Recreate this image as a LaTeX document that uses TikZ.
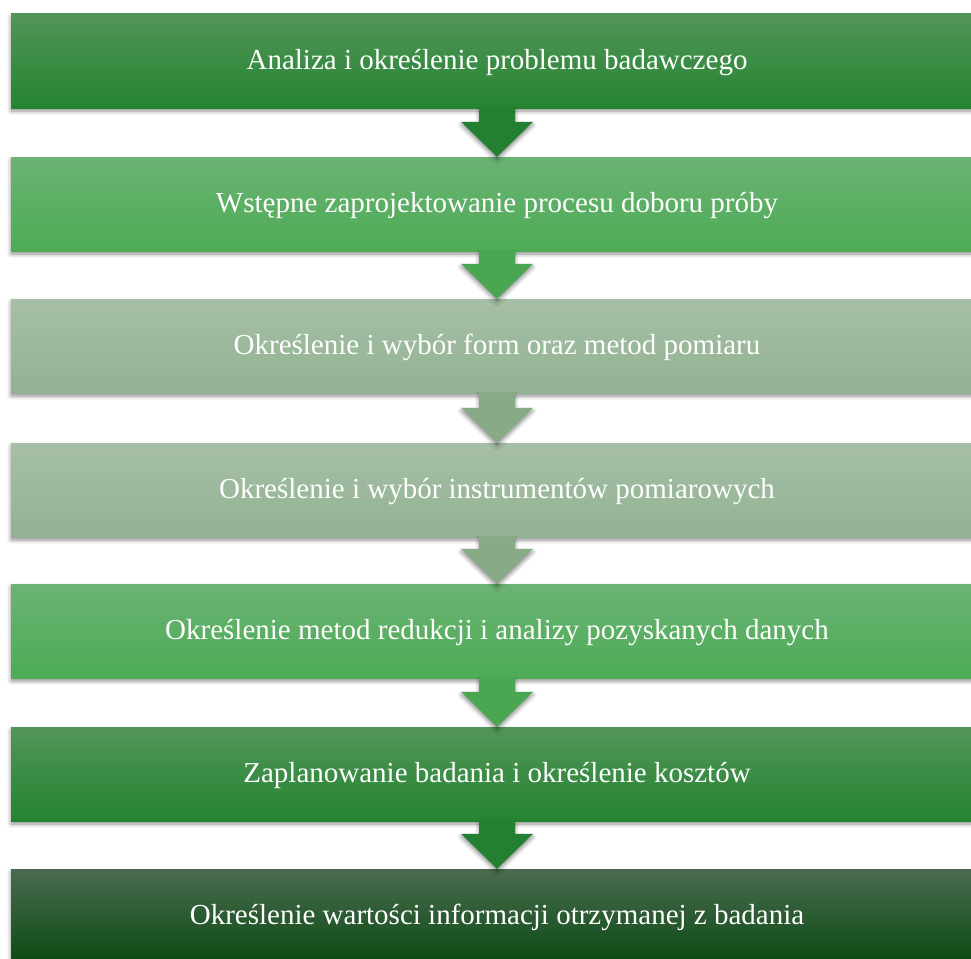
\documentclass[tikz,border=0pt]{standalone}
\usepackage{fontspec}
\setmainfont{Liberation Serif}
\usetikzlibrary{shadows.blur,calc}

% palette of the stage boxes and their arrows
\definecolor{deepTop}{HTML}{529558}
\definecolor{deepMid}{HTML}{2E8A3B}
\definecolor{deepBot}{HTML}{248431}
\definecolor{deepArrow}{HTML}{238030}
\definecolor{midTop}{HTML}{6BB374}
\definecolor{midMid}{HTML}{57AD5F}
\definecolor{midBot}{HTML}{4DAB55}
\definecolor{midArrow}{HTML}{49A651}
\definecolor{paleTop}{HTML}{A6BFA6}
\definecolor{paleMid}{HTML}{9AB79A}
\definecolor{paleBot}{HTML}{92B292}
\definecolor{paleArrow}{HTML}{87AA87}
\definecolor{darkTop}{HTML}{4B6B50}
\definecolor{darkMid}{HTML}{0C4B15}
\definecolor{darkBot}{HTML}{0B4A13}

\begin{document}
\begin{tikzpicture}[x=1pt,y=1pt,
  softshadow/.style={blur shadow={shadow xshift=0pt,shadow yshift=-3pt,
      shadow blur radius=4pt,shadow opacity=45}},
  stage/.style={rectangle,minimum width=972pt,minimum height=94pt,inner sep=0pt,
      text height=17pt,text depth=0pt,
      text=white,font=\fontsize{29}{34}\selectfont,softshadow},
  deepbox/.style={stage,top color=deepTop,middle color=deepMid,bottom color=deepBot},
  midbox/.style={stage,top color=midTop,middle color=midMid,bottom color=midBot},
  palebox/.style={stage,top color=paleTop,middle color=paleMid,bottom color=paleBot},
  darkbox/.style={stage,top color=darkTop,middle color=darkMid,bottom color=darkBot},
  flow/.style={softshadow}]

\useasboundingbox (0,0) rectangle (971,-958);

% stages
\node[deepbox] (s1) at (497,-61)  {Analiza i określenie problemu badawczego};
\node[midbox]  (s2) at (497,-204) {Wstępne zaprojektowanie procesu doboru próby};
\node[palebox] (s3) at (497,-346) {Określenie i wybór form oraz metod pomiaru};
\node[palebox] (s4) at (497,-490) {Określenie i wybór instrumentów pomiarowych};
\node[midbox]  (s5) at (497,-631) {Określenie metod redukcji i analizy pozyskanych danych};
\node[deepbox] (s6) at (497,-774) {Zaplanowanie badania i określenie kosztów};
\node[darkbox] (s7) at (497,-916) {Określenie wartości informacji otrzymanej z badania};

% block arrows between consecutive stages
\foreach \a/\b/\c in {s1/s2/deepArrow,s2/s3/midArrow,s3/s4/paleArrow,
                      s4/s5/paleArrow,s5/s6/midArrow,s6/s7/deepArrow}{
  \fill[flow,\c] ($(\a.south)+(-18,0)$) -- ($(\b.north)+(-18,35)$)
     -- ($(\b.north)+(-36,35)$) -- (\b.north) -- ($(\b.north)+(36,35)$)
     -- ($(\b.north)+(18,35)$) -- ($(\a.south)+(18,0)$) -- cycle;
}
\end{tikzpicture}
\end{document}
